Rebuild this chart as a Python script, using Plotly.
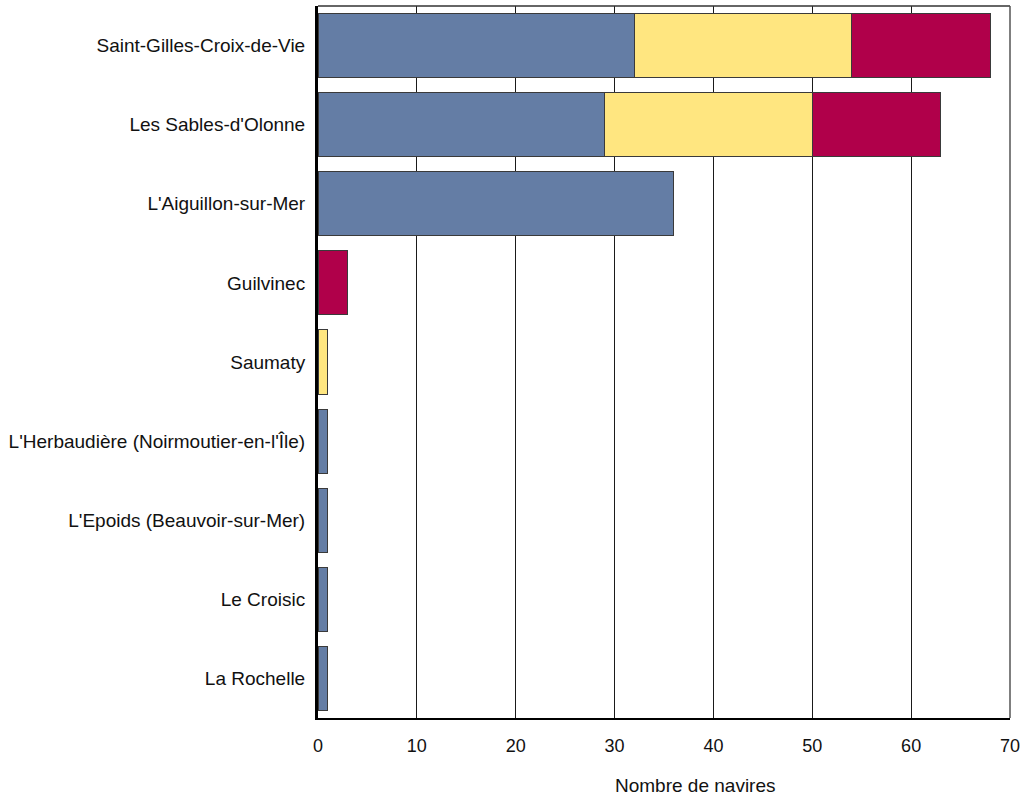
import plotly.graph_objects as go

categories = [
    "Saint-Gilles-Croix-de-Vie",
    "Les Sables-d'Olonne",
    "L'Aiguillon-sur-Mer",
    "Guilvinec",
    "Saumaty",
    "L'Herbaudière (Noirmoutier-en-l'Île)",
    "L'Epoids (Beauvoir-sur-Mer)",
    "Le Croisic",
    "La Rochelle",
]
series_1 = [32, 29, 36, 0, 0, 1, 1, 1, 1]
series_2 = [22, 21, 0, 0, 1, 0, 0, 0, 0]
series_3 = [14, 13, 0, 3, 0, 0, 0, 0, 0]
x_ticks = [0, 10, 20, 30, 40, 50, 60, 70]

colors = ["#647DA5", "#FFE680", "#B0004A"]
FONT = "Liberation Sans, Arial, sans-serif"

fig = go.Figure()
for name, vals, col in zip(["Série 1", "Série 2", "Série 3"],
                           [series_1, series_2, series_3], colors):
    fig.add_trace(go.Bar(
        y=categories, x=vals, orientation="h", name=name,
        marker=dict(color=col, line=dict(color="#3a3a3a", width=1)),
        showlegend=False,
    ))

fig.update_layout(
    barmode="stack",
    bargap=0.19,
    width=1026, height=796,
    margin=dict(l=318, r=14, t=6, b=78),
    paper_bgcolor="white", plot_bgcolor="white",
    font=dict(family=FONT, size=19, color="#111111"),
    xaxis=dict(
        range=[0, 70], tickvals=x_ticks, ticktext=[str(v) for v in x_ticks],
        showgrid=True, gridcolor="#1a1a1a", gridwidth=1,
        showline=True, linecolor="black", linewidth=2,
        ticks="", ticklabelstandoff=10,
        tickfont=dict(family=FONT, size=18, color="#111111"),
        zeroline=False,
    ),
    yaxis=dict(
        autorange="reversed",
        showgrid=False,
        showline=True, linecolor="black", linewidth=3,
        ticks="", ticklabelstandoff=6,
        tickfont=dict(family=FONT, size=19, color="#111111"),
    ),
    shapes=[
        dict(type="line", xref="paper", yref="paper", x0=0, x1=1, y0=1, y1=1,
             line=dict(color="#333333", width=1.5)),
        dict(type="line", xref="paper", yref="paper", x0=1, x1=1, y0=0, y1=1,
             line=dict(color="#555555", width=1.5)),
    ],
    annotations=[
        dict(text="Nombre de navires", xref="paper", yref="paper",
             x=0.546, y=-0.095, xanchor="center", yanchor="middle",
             showarrow=False, font=dict(family=FONT, size=19, color="#111111")),
    ],
)

fig.write_html("out.html",
               config={"displayModeBar": False},
               post_script="document.body.style.margin='0';document.body.style.overflow='hidden';")
